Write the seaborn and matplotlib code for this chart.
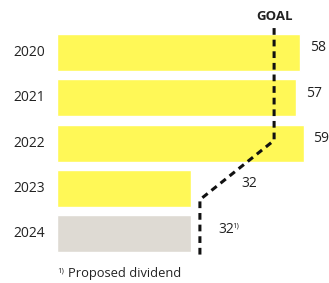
import pandas as pd
import matplotlib
matplotlib.use('Agg')
import matplotlib.pyplot as plt
import seaborn as sns

years = ['2020', '2021', '2022', '2023', '2024']
dividend = [58, 57, 59, 32, 32]
labels = ['58', '57', '59', '32', '32']
footnote_mark = ['', '', '', '', '1)']
label_x = [60.5, 59.5, 61.2, 43.9, 38.5]
bar_colors = ['#FFF857', '#FFF857', '#FFF857', '#FFF857', '#DEDAD3']

# goal path (value, row position)
goal_x = [51.8, 51.8, 34.1, 34.1]
goal_y = [-0.54, 1.94, 3.25, 4.55]

df = pd.DataFrame({'year': years, 'dividend': dividend})

sns.set_theme(style='white')
plt.rcParams['font.family'] = ['Open Sans', 'DejaVu Sans']
text_color = '#222222'

fig = plt.figure(figsize=(3.29, 2.83), dpi=100)
ax = fig.add_axes([0, 0, 1, 1])

sns.barplot(data=df, x='dividend', y='year', hue='year', palette=bar_colors,
            orient='h', width=0.82, saturation=1, legend=False, ax=ax)

ax.plot(goal_x, goal_y, color='#111111', linewidth=2.2, linestyle=(0, (2.2, 1.6)),
        solid_capstyle='butt')
ax.text(goal_x[0], -0.79, 'GOAL', ha='center', va='center', fontsize=9.5,
        fontweight='bold', color=text_color)

for i, y in enumerate(years):
    ax.text(-2.8, i, y, ha='right', va='center', fontsize=10, color=text_color)
    ax.text(label_x[i], i - 0.1, labels[i], ha='left', va='center', fontsize=10,
            color=text_color)
    if footnote_mark[i]:
        ax.text(label_x[i] + 3.4, i - 0.17, footnote_mark[i], ha='left', va='center',
                fontsize=5.5, color=text_color)

ax.text(0, 4.82, '1)', ha='left', va='center', fontsize=5.5, color=text_color)
ax.text(2.6, 4.89, 'Proposed dividend', ha='left', va='center', fontsize=9.3,
        color=text_color)

ax.set_xlim(-13.6, 64.9)
ax.set_ylim(5.09, -1.16)
ax.axis('off')

fig.savefig('out.png', dpi=100)
